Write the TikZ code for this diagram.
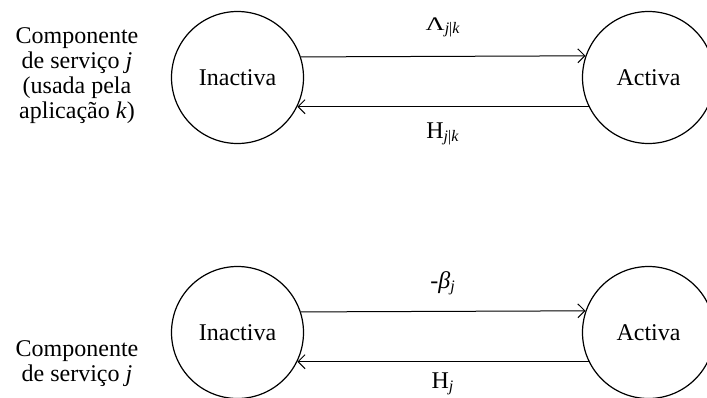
\documentclass[tikz,border=0pt]{standalone}
\usepackage{fontspec}
\usepackage{graphicx}
\setmainfont{Liberation Serif}
\usetikzlibrary{arrows.meta}
\tikzset{
  estado/.style={draw, circle, line width=0.6pt, minimum size=66pt, inner sep=0pt},
  seta/.style={line width=0.5pt, -{Straight Barb[length=3.5pt,width=7pt]}},
  rotulo/.style={anchor=base, inner sep=0pt}
}
\begin{document}
\begin{tikzpicture}[x=0.5pt, y=-0.5pt, font=\fontsize{12}{12.5}\selectfont]
        \useasboundingbox (0,0) rectangle (707,397);
        % componente usada pela aplicacao
        \node[align=center] (compA) at (77,76) {Componente\\de serviço \textit{j}\\(usada pela\\aplicação \textit{k})};
        \node[estado] (inactA) at (237.5,77.5) {Inactiva};
        \node[estado] (activA) at (648.5,77.5) {Activa};
        \draw[seta] (inactA.18.5) -- node[rotulo, yshift=13pt] {\scalebox{1.1}[0.8]{Λ}\textsubscript{\textit{j}|\textit{k}}} (activA.161.5);
        \draw[seta] (activA.206.5) -- node[rotulo, yshift=-15.8pt] {H\textsubscript{\textit{j}|\textit{k}}} (inactA.-26.5);
        % componente sozinha
        \node[align=center] (compB) at (77,363.5) {Componente\\de serviço \textit{j}};
        \node[estado] (inactB) at (237.5,332.5) {Inactiva};
        \node[estado] (activB) at (648.5,332.5) {Activa};
        \draw[seta] (inactB.18.5) -- node[rotulo, yshift=11.5pt] {-\textit{β}\textsubscript{\textit{j}}} (activB.161.5);
        \draw[seta] (activB.206.5) -- node[rotulo, yshift=-13.3pt] {H\textsubscript{\textit{j}}} (inactB.-26.5);
     \end{tikzpicture}
\end{document}
